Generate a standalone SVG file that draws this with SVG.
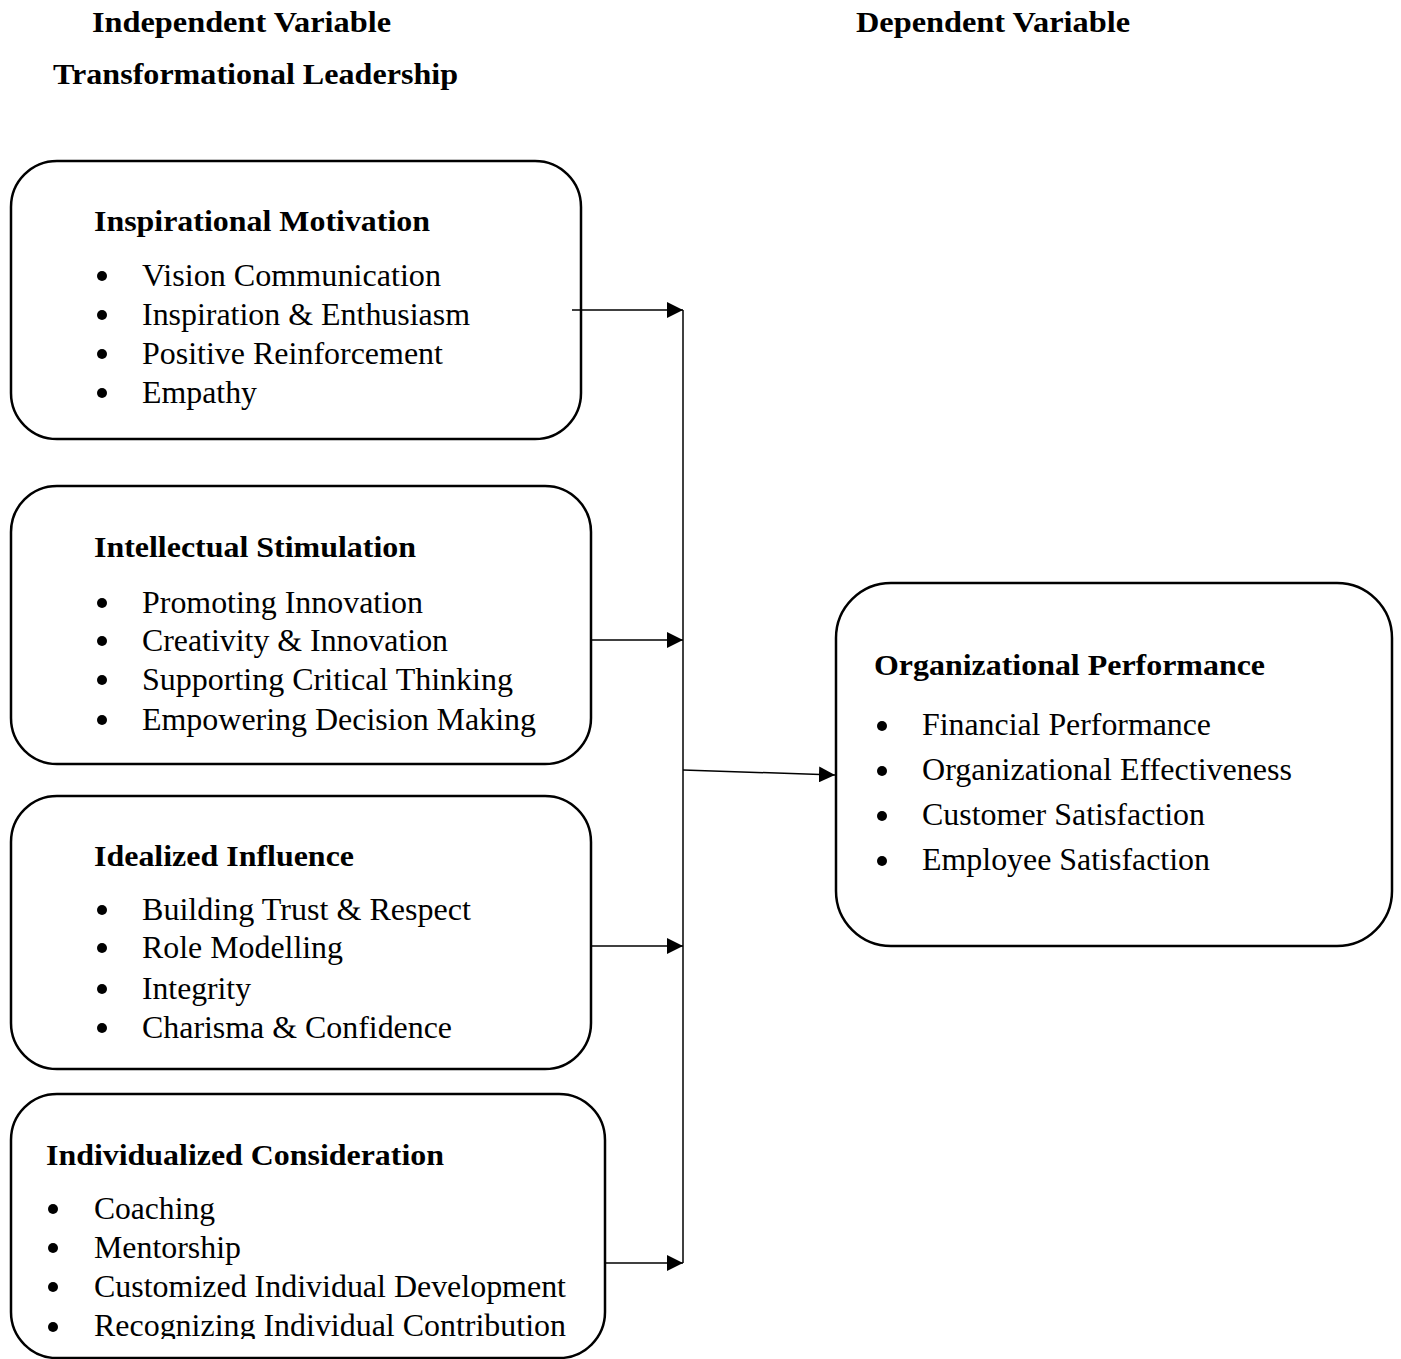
<svg xmlns="http://www.w3.org/2000/svg" width="1401" height="1359" viewBox="0 0 1401 1359">
<style>
.box{fill:#fff;stroke:#000;stroke-width:2.5}
.h{font-family:'Liberation Serif','Times New Roman',serif;font-weight:bold;font-size:30px;fill:#000}
.t{font-family:'Liberation Serif','Times New Roman',serif;font-size:30.5px;fill:#000}
.c{stroke:#000;stroke-width:1.5;fill:none}
</style>
<defs>
<marker id="ah" markerUnits="userSpaceOnUse" markerWidth="16" markerHeight="16" refX="16" refY="8" orient="auto">
<path d="M0,0 L16,8 L0,16 Z" fill="#000"/>
</marker>
<clipPath id="cut"><rect x="0" y="0" width="1401" height="1339"/></clipPath>
</defs>
<rect width="1401" height="1359" fill="#fff"/>
<g id="titles">
<text class="h" x="92" y="32" textLength="299" lengthAdjust="spacingAndGlyphs">Independent Variable</text>
<text class="h" x="856" y="32" textLength="274" lengthAdjust="spacingAndGlyphs">Dependent Variable</text>
<text class="h" x="53" y="84" textLength="405" lengthAdjust="spacingAndGlyphs">Transformational Leadership</text>
</g>
<g id="inspirational-motivation">
<rect class="box" x="11" y="161" width="570" height="278" rx="46"/>
<text class="h" x="94" y="231" textLength="336" lengthAdjust="spacingAndGlyphs">Inspirational Motivation</text>
<circle cx="102" cy="276" r="5"/><text class="t" x="142" y="286" textLength="299" lengthAdjust="spacingAndGlyphs">Vision Communication</text>
<circle cx="102" cy="315" r="5"/><text class="t" x="142" y="325" textLength="328" lengthAdjust="spacingAndGlyphs">Inspiration &amp; Enthusiasm</text>
<circle cx="102" cy="354" r="5"/><text class="t" x="142" y="364" textLength="301" lengthAdjust="spacingAndGlyphs">Positive Reinforcement</text>
<circle cx="102" cy="393" r="5"/><text class="t" x="142" y="403" textLength="115" lengthAdjust="spacingAndGlyphs">Empathy</text>
</g>
<g id="intellectual-stimulation">
<rect class="box" x="11" y="486" width="580" height="278" rx="46"/>
<text class="h" x="94" y="557" textLength="322" lengthAdjust="spacingAndGlyphs">Intellectual Stimulation</text>
<circle cx="102" cy="603" r="5"/><text class="t" x="142" y="613" textLength="281" lengthAdjust="spacingAndGlyphs">Promoting Innovation</text>
<circle cx="102" cy="641" r="5"/><text class="t" x="142" y="651" textLength="306" lengthAdjust="spacingAndGlyphs">Creativity &amp; Innovation</text>
<circle cx="102" cy="680" r="5"/><text class="t" x="142" y="690" textLength="371" lengthAdjust="spacingAndGlyphs">Supporting Critical Thinking</text>
<circle cx="102" cy="720" r="5"/><text class="t" x="142" y="730" textLength="394" lengthAdjust="spacingAndGlyphs">Empowering Decision Making</text>
</g>
<g id="idealized-influence">
<rect class="box" x="11" y="796" width="580" height="273" rx="46"/>
<text class="h" x="94" y="866" textLength="260" lengthAdjust="spacingAndGlyphs">Idealized Influence</text>
<circle cx="102" cy="910" r="5"/><text class="t" x="142" y="920" textLength="329" lengthAdjust="spacingAndGlyphs">Building Trust &amp; Respect</text>
<circle cx="102" cy="948" r="5"/><text class="t" x="142" y="958" textLength="201" lengthAdjust="spacingAndGlyphs">Role Modelling</text>
<circle cx="102" cy="989" r="5"/><text class="t" x="142" y="999" textLength="109" lengthAdjust="spacingAndGlyphs">Integrity</text>
<circle cx="102" cy="1028" r="5"/><text class="t" x="142" y="1038" textLength="310" lengthAdjust="spacingAndGlyphs">Charisma &amp; Confidence</text>
</g>
<g id="individualized-consideration">
<rect class="box" x="11" y="1094" width="594" height="264" rx="46"/>
<text class="h" x="46" y="1165" textLength="398" lengthAdjust="spacingAndGlyphs">Individualized Consideration</text>
<circle cx="53" cy="1209" r="5"/><text class="t" x="94" y="1219" textLength="121" lengthAdjust="spacingAndGlyphs">Coaching</text>
<circle cx="53" cy="1248" r="5"/><text class="t" x="94" y="1258" textLength="147" lengthAdjust="spacingAndGlyphs">Mentorship</text>
<circle cx="53" cy="1287" r="5"/><text class="t" x="94" y="1297" textLength="472" lengthAdjust="spacingAndGlyphs">Customized Individual Development</text>
<circle cx="53" cy="1327" r="5"/><text class="t" x="94" y="1336" textLength="472" lengthAdjust="spacingAndGlyphs" clip-path="url(#cut)">Recognizing Individual Contribution</text>
</g>
<g id="organizational-performance">
<rect class="box" x="836" y="583" width="556" height="363" rx="55"/>
<text class="h" x="874" y="675" textLength="391" lengthAdjust="spacingAndGlyphs">Organizational Performance</text>
<circle cx="882" cy="726" r="5"/><text class="t" x="922" y="735" textLength="289" lengthAdjust="spacingAndGlyphs">Financial Performance</text>
<circle cx="882" cy="771" r="5"/><text class="t" x="922" y="780" textLength="370" lengthAdjust="spacingAndGlyphs">Organizational Effectiveness</text>
<circle cx="882" cy="816" r="5"/><text class="t" x="922" y="825" textLength="283" lengthAdjust="spacingAndGlyphs">Customer Satisfaction</text>
<circle cx="882" cy="861" r="5"/><text class="t" x="922" y="870" textLength="288" lengthAdjust="spacingAndGlyphs">Employee Satisfaction</text>
</g>
<g id="connectors">
<line class="c" x1="683" y1="310" x2="683" y2="1263"/>
<line class="c" x1="572" y1="310" x2="683" y2="310" marker-end="url(#ah)"/>
<line class="c" x1="591" y1="640" x2="683" y2="640" marker-end="url(#ah)"/>
<line class="c" x1="591" y1="946" x2="683" y2="946" marker-end="url(#ah)"/>
<line class="c" x1="605" y1="1263" x2="683" y2="1263" marker-end="url(#ah)"/>
<line class="c" x1="683" y1="770" x2="835" y2="775" marker-end="url(#ah)"/>
</g>
</svg>
